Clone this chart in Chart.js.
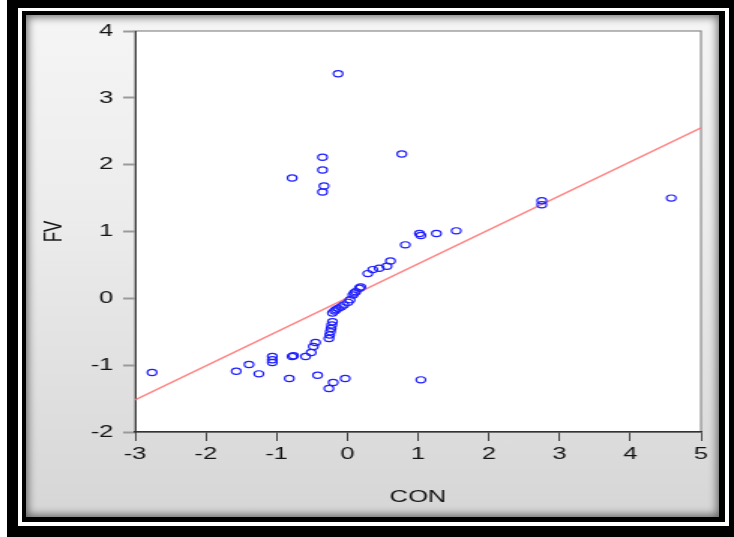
<!DOCTYPE html>
<html>
<head>
<meta charset="utf-8">
<script src="https://cdn.jsdelivr.net/npm/chart.js@4/dist/chart.umd.min.js"></script>
<style>
  html, body { margin: 0; padding: 0; background: #fff; }
  #wrap { position: relative; width: 734px; height: 537px; overflow: hidden; }
  .box { position: absolute; }
  #outer { left: 7px; top: 0; width: 727px; height: 537px; background: #000; }
  #gap { left: 18px; top: 8px; width: 711px; height: 518px; background: #fff; }
  #inner { left: 22px; top: 11px; width: 703px; height: 511px; background: #000; }
  #panel { left: 26px; top: 15px; width: 693px; height: 502px;
           background: linear-gradient(#f5f5f5, #ececec 40%, #d6d6d6);
           box-shadow: inset 0 0 9px 2px rgba(0,0,0,0.55); }
  #grafico { position: absolute; left: 0; top: 0; }
</style>
</head>
<body>
<div id="wrap">
  <div class="box" id="outer"></div>
  <div class="box" id="gap"></div>
  <div class="box" id="inner"></div>
  <div class="box" id="panel"></div>
  <!-- el original esta estirado en horizontal: se dibuja a 489 px y se muestra a 734 -->
  <canvas id="grafico" width="489" height="537" style="width:734px;height:537px"></canvas>
</div>
<script>
// datos (CON vs FV)
const conX = [
  -2.76, -1.57, -1.39, -1.25, -1.06, -1.06, -1.06, -0.82, -0.78, -0.76,
  -0.59, -0.51, -0.48, -0.45, -0.42, -0.26, -0.20, -0.03, -0.26, -0.25,
  -0.24, -0.23, -0.22, -0.21, -0.21, -0.18, -0.16, -0.13, -0.09, -0.05,
  0.01, 0.04, 0.08, 0.10, 0.12, 0.17, 0.19, 0.29, 0.36, 0.45,
  0.56, 0.61, 0.82, 1.02, 1.04, 1.26, 1.54, 1.04, 0.77, -0.13,
  -0.35, -0.35, -0.78, -0.33, -0.35, 2.75, 2.75, 4.58
];
const fvY = [
  -1.11, -1.09, -0.99, -1.13, -0.87, -0.92, -0.96, -1.20, -0.87, -0.86,
  -0.87, -0.81, -0.72, -0.66, -1.15, -1.35, -1.26, -1.20, -0.60, -0.55,
  -0.50, -0.45, -0.40, -0.35, -0.22, -0.19, -0.17, -0.15, -0.13, -0.10,
  -0.06, -0.02, 0.05, 0.08, 0.10, 0.15, 0.17, 0.37, 0.43, 0.45,
  0.48, 0.56, 0.80, 0.97, 0.94, 0.97, 1.01, -1.22, 2.16, 3.36,
  2.11, 1.92, 1.80, 1.68, 1.59, 1.46, 1.40, 1.50
];

// recta de regresion
const lineX = [-3, 5];
const lineY = [-1.52, 2.55];

const xTicks = [-3, -2, -1, 0, 1, 2, 3, 4, 5];
const yTicks = [-2, -1, 0, 1, 2, 3, 4];

const marcoArea = {
  id: 'marcoArea',
  beforeDraw(chart) {
    const { ctx, chartArea: a } = chart;
    ctx.save();
    ctx.fillStyle = '#ffffff';
    ctx.fillRect(a.left, a.top, a.right - a.left, a.bottom - a.top);
    ctx.strokeStyle = '#8a8a8a';
    ctx.lineWidth = 1.2;
    ctx.strokeRect(a.left, a.top, a.right - a.left, a.bottom - a.top);
    ctx.restore();
  }
};

const fuente = { family: 'Arial, "Liberation Sans", sans-serif', size: 17 };

const ctx = document.getElementById('grafico').getContext('2d');
const myChart = new Chart(ctx, {
  type: 'scatter',
  data: {
    datasets: [
      {
        label: 'FV',
        data: conX.map((x, i) => ({ x: x, y: fvY[i] })),
        pointStyle: 'circle',
        pointRadius: 3.1,
        pointHoverRadius: 3.1,
        borderColor: '#2020ff',
        borderWidth: 1.2,
        backgroundColor: 'rgba(0,0,0,0)'
      },
      {
        type: 'line',
        label: 'ajuste',
        data: lineX.map((x, i) => ({ x: x, y: lineY[i] })),
        borderColor: 'rgba(255, 110, 110, 0.85)',
        borderWidth: 1.4,
        pointRadius: 0,
        fill: false
      }
    ]
  },
  options: {
    responsive: false,
    animation: false,
    devicePixelRatio: 1,
    layout: { padding: { left: 10, top: 31, right: 22, bottom: 20 } },
    plugins: { legend: { display: false }, tooltip: { enabled: false } },
    scales: {
      x: {
        type: 'linear',
        min: -3, max: 5,
        afterBuildTicks: s => { s.ticks = xTicks.map(v => ({ value: v })); },
        afterFit: s => { s.height = 85; },
        border: { color: '#333', width: 1.5 },
        grid: { drawOnChartArea: false, drawTicks: true, tickLength: 9, tickColor: '#444', tickWidth: 1 },
        ticks: { color: '#141414', font: fuente, padding: 3, maxRotation: 0 },
        title: { display: true, text: 'CON', color: '#141414', font: fuente, padding: { top: 0, bottom: 9 } }
      },
      y: {
        type: 'linear',
        min: -2, max: 4,
        afterBuildTicks: s => { s.ticks = yTicks.map(v => ({ value: v })); },
        afterFit: s => { s.width = 80; },
        border: { color: '#333', width: 1 },
        grid: { drawOnChartArea: false, drawTicks: true, tickLength: 8, tickColor: '#9a9a9a', tickWidth: 2 },
        ticks: { color: '#141414', font: fuente, padding: 6.5 },
        title: { display: true, text: 'FV', color: '#141414', font: fuente, padding: { top: 16, bottom: 0 } }
      }
    }
  },
  plugins: [marcoArea]
});
</script>
</body>
</html>
